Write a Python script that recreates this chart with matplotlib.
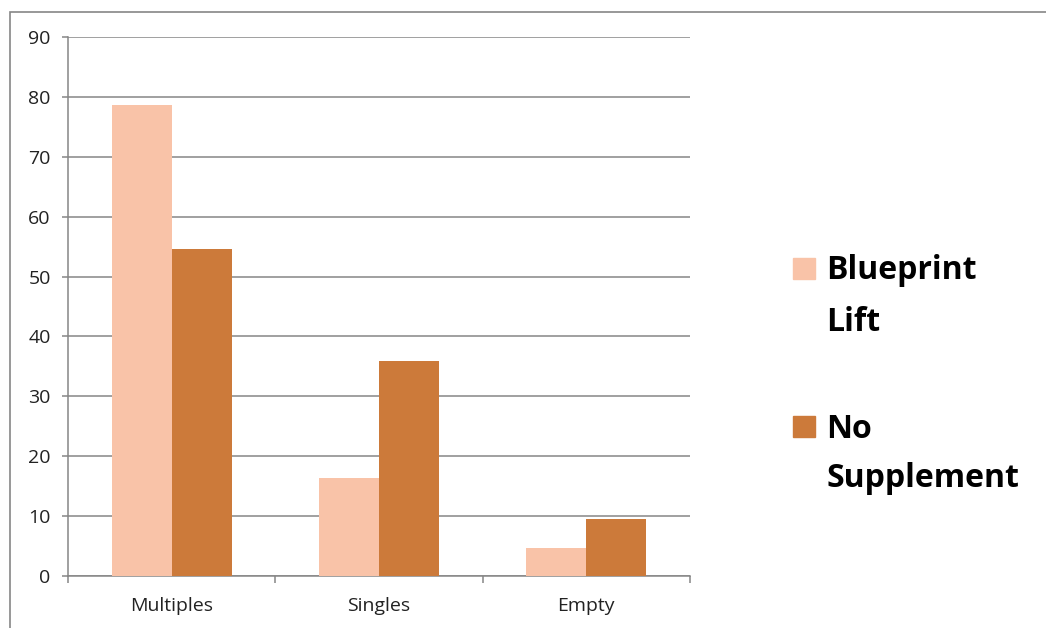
import matplotlib.pyplot as plt
import numpy as np
from matplotlib.patches import Rectangle

categories = ["Multiples", "Singles", "Empty"]
blueprint_lift = [78.7, 16.3, 4.6]
no_supplement = [54.6, 35.9, 9.6]
series_names = [["Blueprint", "Lift"], ["No", "Supplement"]]
colors = ["#F9C3A8", "#CC7A3A"]

plt.rcParams["font.family"] = ["Open Sans", "DejaVu Sans"]

W, H = 1046, 628
fig = plt.figure(figsize=(W / 100, H / 100), dpi=100)
ax = fig.add_axes([68 / W, 1 - 576 / H, (690 - 68) / W, (576 - 37) / H])

# outer chart frame, only left and top edges show in the picture
fig.patches.append(Rectangle((10 / W, -0.1), 1.2, 1.1 - 12 / H,
                             transform=fig.transFigure, fill=False,
                             edgecolor="#868686", lw=1.2))

x = np.arange(len(categories))
w = 0.29
ax.bar(x - w / 2, blueprint_lift, w, color=colors[0], zorder=3)
ax.bar(x + w / 2, no_supplement, w, color=colors[1], zorder=3)

ax.set_xlim(-0.5, 2.5)
ax.set_ylim(0, 90)
ax.set_yticks(range(0, 91, 10))
ax.yaxis.grid(True, color="#868686", lw=1.1, zorder=0)
ax.set_xticks(x)
ax.set_xticklabels(categories)
ax.set_xticks([-0.5, 0.5, 1.5, 2.5], minor=True)
ax.tick_params(axis="x", which="major", length=0, pad=15, labelsize=14, colors="#222222")
ax.tick_params(axis="x", which="minor", length=5, width=1.1, color="#868686", direction="out")
ax.tick_params(axis="y", length=4.5, width=1.1, color="#868686", pad=8, labelsize=14,
               labelcolor="#222222")

for s in ["top", "right"]:
    ax.spines[s].set_visible(False)
for s in ["left", "bottom"]:
    ax.spines[s].set_color("#868686")
    ax.spines[s].set_linewidth(1.1)

# legend drawn by hand: square + two bold lines per series
sq_top = [258, 416]
baselines = [[279, 331], [438, 487]]
for i, names in enumerate(series_names):
    fig.patches.append(Rectangle((793 / W, 1 - (sq_top[i] + 21) / H), 22 / W, 21 / H,
                                 transform=fig.transFigure, color=colors[i]))
    for name, yb in zip(names, baselines[i]):
        fig.text(826 / W, 1 - yb / H, name, fontsize=23, fontweight="bold",
                 va="baseline", ha="left", color="black")

fig.savefig("out.png", dpi=100)
